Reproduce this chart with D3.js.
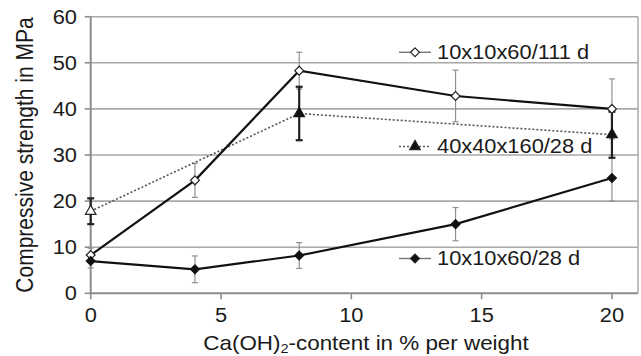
<!DOCTYPE html>
<meta charset="utf-8">
<script src="https://d3js.org/d3.v7.min.js"></script>
<style>
  body { margin: 0; background: #fff; }
  svg text { font-family: "Liberation Sans", Arial, sans-serif; fill: #1a1a1a; }
</style>
<div id="chart"></div>
<script>
  // values
  var contents = [0, 4, 8, 14, 20];
  var small111 = [8.3, 24.5, 48.3, 42.8, 40.0];
  var small111Err = [1.5, 3.7, 4.0, 5.6, 6.5];
  var prismContents = [0, 8, 20];
  var prism28 = [17.8, 39.0, 34.4];
  var prism28Err = [2.8, 5.8, 5.0];
  var small28 = [7.0, 5.2, 8.2, 15.0, 25.0];
  var small28Err = [1.5, 2.9, 2.8, 3.6, 5.0];
  var yTicks = [0, 10, 20, 30, 40, 50, 60];
  var xTicks = [0, 5, 10, 15, 20];

  var W = 641, H = 356, FS = 19.5, SX = 1.12;

  var svg = d3.select("#chart").append("svg")
    .attr("width", W).attr("height", H);

  var x = d3.scaleLinear().domain([0, 21]).range([90.7, 638]);
  var y = d3.scaleLinear().domain([0, 60]).range([293.3, 16.7]);

  // horizontal text is slightly stretched in the original
  function label(g, px, py, txt, anchor) {
    return g.append("text")
      .attr("transform", "translate(" + px + "," + py + ") scale(" + SX + ",1)")
      .attr("text-anchor", anchor || "start")
      .style("font-size", FS + "px")
      .text(txt);
  }

  // grid
  svg.append("g").selectAll("line")
    .data(yTicks.filter(function (d) { return d > 0; }))
    .enter().append("line")
    .attr("x1", x(0)).attr("x2", x(21))
    .attr("y1", function (d) { return y(d); })
    .attr("y2", function (d) { return y(d); })
    .style("stroke", "#a8a8a8").style("stroke-width", 1.6);

  // frame: left axis, bottom axis, right border
  var frame = svg.append("g").style("stroke", "#8c8c8c").style("stroke-width", 2);
  frame.append("line").attr("x1", x(0)).attr("x2", x(0)).attr("y1", y(60)).attr("y2", y(0));
  frame.append("line").attr("x1", x(0)).attr("x2", x(21)).attr("y1", y(0)).attr("y2", y(0));
  frame.append("line").attr("x1", x(21)).attr("x2", x(21)).attr("y1", y(60)).attr("y2", y(0))
    .style("stroke", "#b0b0b0").style("stroke-width", 1.6);

  // ticks and tick labels
  var tg = svg.append("g");
  yTicks.forEach(function (t) {
    tg.append("line").attr("x1", x(0) - 6).attr("x2", x(0))
      .attr("y1", y(t)).attr("y2", y(t))
      .style("stroke", "#8c8c8c").style("stroke-width", 1.6);
    label(tg, 77, y(t) + 7, t, "end");
  });
  xTicks.forEach(function (t) {
    tg.append("line").attr("x1", x(t)).attr("x2", x(t))
      .attr("y1", y(0)).attr("y2", y(0) + 6)
      .style("stroke", "#8c8c8c").style("stroke-width", 1.6);
    label(tg, x(t), 321.5, t, "middle");
  });

  // axis titles
  var xt = svg.append("text")
    .attr("transform", "translate(366,349.5) scale(" + SX + ",1)")
    .attr("text-anchor", "middle")
    .style("font-size", "20px");
  xt.append("tspan").text("Ca(OH)");
  xt.append("tspan").attr("dy", 3).style("font-size", "13px").text("2");
  xt.append("tspan").attr("dy", -3).text("-content in % per weight");

  svg.append("text")
    .attr("transform", "translate(33,155) rotate(-90) scale(1,1.1)")
    .attr("text-anchor", "middle")
    .style("font-size", "21px")
    .text("Compressive strength in MPa");

  var line = d3.line()
    .x(function (d) { return x(d[0]); })
    .y(function (d) { return y(d[1]); });

  function pairs(xs, vs) { return xs.map(function (v, i) { return [v, vs[i]]; }); }

  // error bars
  function errBars(xs, vs, es, color, width, cap) {
    var g = svg.append("g").style("stroke", color).style("stroke-width", width);
    xs.forEach(function (xv, i) {
      var lo = y(vs[i] - es[i]), hi = y(vs[i] + es[i]), cx = x(xv);
      g.append("line").attr("x1", cx).attr("x2", cx).attr("y1", lo).attr("y2", hi);
      g.append("line").attr("x1", cx - cap).attr("x2", cx + cap).attr("y1", lo).attr("y2", lo);
      g.append("line").attr("x1", cx - cap).attr("x2", cx + cap).attr("y1", hi).attr("y2", hi);
    });
  }
  errBars(contents, small111, small111Err, "#909090", 1.2, 3);
  errBars(contents, small28, small28Err, "#909090", 1.2, 3);

  // series lines
  svg.append("path").datum(pairs(prismContents, prism28)).attr("d", line)
    .style("fill", "none").style("stroke", "#555").style("stroke-width", 1.6)
    .style("stroke-dasharray", "2,2");
  svg.append("path").datum(pairs(contents, small111)).attr("d", line)
    .style("fill", "none").style("stroke", "#111").style("stroke-width", 2.2);
  svg.append("path").datum(pairs(contents, small28)).attr("d", line)
    .style("fill", "none").style("stroke", "#111").style("stroke-width", 2.2);

  errBars(prismContents, prism28, prism28Err, "#222", 2.2, 3.5);

  // markers
  var diamond = d3.symbol().type(d3.symbolDiamond2).size(50);
  var tri = d3.symbol().type(d3.symbolTriangle).size(48);

  function markers(xs, vs, sym, fill, stroke) {
    svg.append("g").selectAll("path")
      .data(pairs(xs, vs)).enter().append("path")
      .attr("d", sym)
      .attr("transform", function (d) { return "translate(" + x(d[0]) + "," + y(d[1]) + ")"; })
      .style("fill", fill).style("stroke", stroke).style("stroke-width", 1.2);
  }
  markers(contents, small111, diamond, "#fff", "#222");
  markers(contents, small28, diamond, "#111", "#111");
  markers(prismContents.slice(0, 1), prism28.slice(0, 1), tri, "#fff", "#222");
  markers(prismContents.slice(1), prism28.slice(1), tri, "#111", "#111");

  // legend (inside plot)
  var lg = svg.append("g");
  var legendRows = [
    { name: "10x10x60/111 d", cy: 52.3, sym: diamond, fill: "#fff", dash: null, lw: 1.4, stroke: "#777" },
    { name: "40x40x160/28 d", cy: 146.5, sym: tri, fill: "#111", dash: "2,2", lw: 1.4, stroke: "#555" },
    { name: "10x10x60/28 d", cy: 258.5, sym: diamond, fill: "#111", dash: null, lw: 1.4, stroke: "#777" }
  ];
  legendRows.forEach(function (r) {
    lg.append("line").attr("x1", 399).attr("x2", 431).attr("y1", r.cy).attr("y2", r.cy)
      .style("stroke", r.stroke).style("stroke-width", r.lw)
      .style("stroke-dasharray", r.dash);
    lg.append("path").attr("d", r.sym)
      .attr("transform", "translate(415," + r.cy + ")")
      .style("fill", r.fill).style("stroke", "#222").style("stroke-width", 1.2);
    label(lg, 437, r.cy + 6.5, r.name, "start");
  });
</script>
